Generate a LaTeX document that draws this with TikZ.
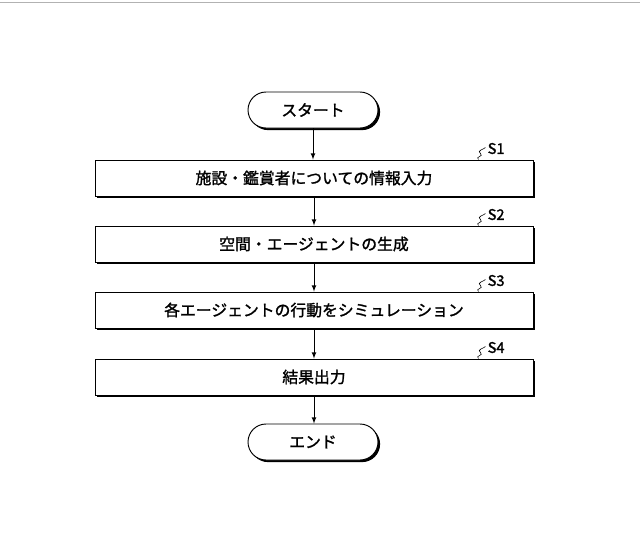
\documentclass[tikz,border=0pt]{standalone}
\usepackage{fontspec}
\setmainfont{Noto Sans CJK JP}[FakeBold=1.5]
\usetikzlibrary{positioning,shadows,calc}
\tikzset{
  stepbox/.style={draw, line width=0.8pt, fill=white, minimum width=438\px, minimum height=36\px,
    drop shadow={shadow xshift=1.8pt, shadow yshift=-1.8pt, fill=black, opacity=1}},
  term/.style={draw, line width=0.8pt, fill=white, rounded corners=18\px, minimum width=130\px, minimum height=36\px,
    drop shadow={shadow xshift=1.8pt, shadow yshift=-1.8pt, fill=black, opacity=1}},
  flow/.style={-latex, line width=0.8pt},
  steplabel/.style={font=\fontsize{12.5}{14}\selectfont, anchor=west, inner sep=0pt}
}
\newcommand{\px}{*0.03cm}
\begin{document}
\begin{tikzpicture}[x=0.03cm, y=-0.03cm, font=\fontsize{13.5}{16}\selectfont]
  \useasboundingbox (0,0) rectangle (640,548);
  \draw[gray!60, line width=0.4pt] (0,2) -- (640,2);
  \node[term] (start) at (313,110) {スタート};
  \node[stepbox] (s1) at (314,178) {施設・鑑賞者についての情報入力};
  \node[stepbox] (s2) at (314,244) {空間・エージェントの生成};
  \node[stepbox] (s3) at (314,310) {各エージェントの行動をシミュレーション};
  \node[stepbox] (s4) at (314,377) {結果出力};
  \node[term] (end) at (313,442) {エンド};
  \draw[flow] (start) -- (start |- s1.north);
  \draw[flow] (s1) -- (s2);
  \draw[flow] (s2) -- (s3);
  \draw[flow] (s3) -- (s4);
  \draw[flow] (s4) -- (s4 |- end.north);
  % step labels
  \foreach \n/\t in {s1/S1, s2/S2, s3/S3, s4/S4}
  {
    \draw[line width=0.5pt] ($(\n.north east)+(-55,0)$) .. controls +(-4,-3) and +(4,3) .. ++(2,-6)
      .. controls +(-4,-3) and +(-2,2) .. ++(5,-6) coordinate (\n c);
    \node[steplabel] (\n l) at ($(\n c)+(2,1)$) {\t};
  }
\end{tikzpicture}
\end{document}
